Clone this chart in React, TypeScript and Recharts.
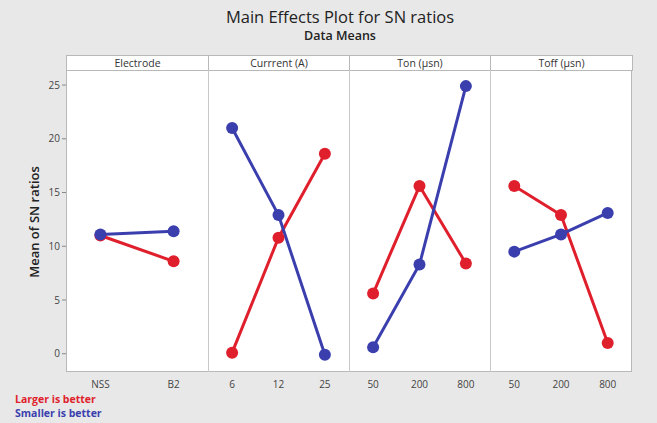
import React from "react";
import { LineChart, Line, XAxis, YAxis } from "recharts";

const electrodeLevels = ["NSS", "B2"];
const currentLevels = ["6", "12", "25"];
const tonLevels = ["50", "200", "800"];
const toffLevels = ["50", "200", "800"];

const largerElectrode = [11.0, 8.6];
const smallerElectrode = [11.1, 11.4];
const largerCurrent = [0.1, 10.8, 18.6];
const smallerCurrent = [21.0, 12.9, -0.1];
const largerTon = [5.6, 15.6, 8.4];
const smallerTon = [0.6, 8.3, 24.9];
const largerToff = [15.6, 12.9, 1.0];
const smallerToff = [9.5, 11.1, 13.1];

const yTicks = [0, 5, 10, 15, 20, 25];
const panelTitles = ["Electrode", "Currrent (A)", "Ton (µsn)", "Toff (µsn)"];

const RED = "#e01f2d";
const BLUE = "#3b3fae";
const FONT = "'Open Sans', 'DejaVu Sans', sans-serif";
const FRAME = "#b8b8b8";

type PanelProps = {
  left: number;
  width: number;
  levels: string[];
  larger: number[];
  smaller: number[];
  showY?: boolean;
};

function Panel({ left, width, levels, larger, smaller, showY }: PanelProps) {
  const data = levels.map((lvl, i) => ({ i, larger: larger[i], smaller: smaller[i] }));
  const pad = levels.length === 2 ? 0.47 : 0.52;
  const ticks = levels.map((_, i) => i);
  return (
    <div style={{ position: "absolute", left, top: 70 }}>
      <LineChart
        width={width}
        height={327}
        data={data}
        margin={{ top: 0, right: 0, bottom: 0, left: 0 }}
      >
        <XAxis
          type="number"
          dataKey="i"
          domain={[-pad, levels.length - 1 + pad]}
          ticks={ticks}
          tickFormatter={(v: number) => levels[v]}
          tickLine={false}
          axisLine={false}
          height={25}
          tickMargin={3}
          tick={{ fill: "#444", fontSize: 10, fontFamily: FONT }}
        />
        <YAxis
          hide={!showY}
          type="number"
          domain={[-1.7, 26.4]}
          ticks={yTicks}
          width={46}
          axisLine={false}
          tickSize={4}
          tickLine={{ stroke: "#888" }}
          tick={{ fill: "#444", fontSize: 10, fontFamily: FONT }}
        />
        <Line
          dataKey="larger"
          stroke={RED}
          strokeWidth={3}
          dot={{ r: 6, fill: RED, stroke: RED, strokeWidth: 0 }}
          isAnimationActive={false}
        />
        <Line
          dataKey="smaller"
          stroke={BLUE}
          strokeWidth={3}
          dot={{ r: 6, fill: BLUE, stroke: BLUE, strokeWidth: 0 }}
          isAnimationActive={false}
        />
      </LineChart>
    </div>
  );
}

export default function App() {
  const panelEdges = [66, 208, 349, 490, 632];
  return (
    <div
      style={{
        position: "absolute",
        left: 0,
        top: 0,
        width: 657,
        height: 423,
        background: "#e8e8e8",
        fontFamily: FONT,
        overflow: "hidden",
      }}
    >
      <div style={{ position: "absolute", top: 7, left: 0, width: 680, textAlign: "center", fontSize: 16.5, lineHeight: "19px", fontWeight: 500, color: "#222" }}>
        Main Effects Plot for SN ratios
      </div>
      <div style={{ position: "absolute", top: 28, left: 0, width: 680, textAlign: "center", fontSize: 12.5, lineHeight: "15px", fontWeight: 600, color: "#222" }}>
        Data Means
      </div>

      {/* plot frame and header strip */}
      <div style={{ position: "absolute", left: 66, top: 70, width: 566, height: 302, background: "#fff", boxSizing: "border-box", border: `1px solid ${FRAME}` }} />
      {panelTitles.map((t, k) => (
        <div
          key={t}
          style={{
            position: "absolute",
            left: panelEdges[k],
            top: 55,
            width: panelEdges[k + 1] - panelEdges[k] + 1,
            height: 16,
            background: "#fff",
            boxSizing: "border-box",
            border: `1px solid ${FRAME}`,
            textAlign: "center",
            fontSize: 10.5,
            lineHeight: "14px",
            color: "#333",
          }}
        >
          {t}
        </div>
      ))}
      {panelEdges.slice(1, 4).map((x) => (
        <div key={x} style={{ position: "absolute", left: x, top: 70, width: 1, height: 302, background: "#c8c8c8" }} />
      ))}

      <Panel left={20} width={188} levels={electrodeLevels} larger={largerElectrode} smaller={smallerElectrode} showY />
      <Panel left={208} width={141} levels={currentLevels} larger={largerCurrent} smaller={smallerCurrent} />
      <Panel left={349} width={141} levels={tonLevels} larger={largerTon} smaller={smallerTon} />
      <Panel left={490} width={142} levels={toffLevels} larger={largerToff} smaller={smallerToff} />

      <div
        style={{
          position: "absolute",
          left: 34,
          top: 222,
          transform: "translate(-50%, -50%) rotate(-90deg)",
          whiteSpace: "nowrap",
          fontSize: 13,
          fontWeight: 600,
          color: "#222",
        }}
      >
        Mean of SN ratios
      </div>

      <div style={{ position: "absolute", left: 15, top: 393, fontSize: 10.5, fontWeight: 700, color: RED, lineHeight: "12px" }}>
        Larger is better
      </div>
      <div style={{ position: "absolute", left: 15, top: 407, fontSize: 10.5, fontWeight: 700, color: BLUE, lineHeight: "12px" }}>
        Smaller is better
      </div>
    </div>
  );
}
